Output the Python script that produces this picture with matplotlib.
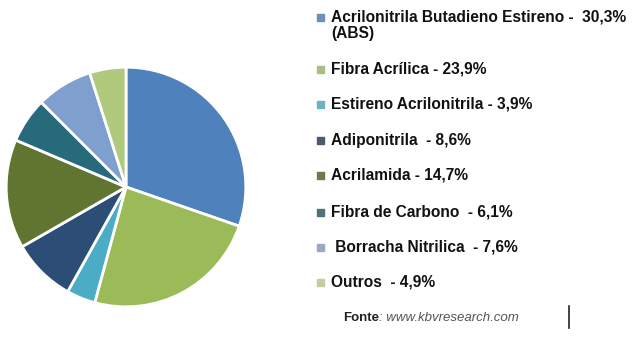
import numpy as np
import matplotlib.pyplot as plt
from matplotlib.patches import Rectangle

#- Data:

labels = ["Acrilonitrila Butadieno Estireno -  30,3%\n(ABS)",
          "Fibra Acrílica - 23,9%",
          "Estireno Acrilonitrila - 3,9%",
          "Adiponitrila  - 8,6%",
          "Acrilamida - 14,7%",
          "Fibra de Carbono  - 6,1%",
          " Borracha Nitrilica  - 7,6%",
          "Outros  - 4,9%"]
shares = [30.3, 23.9, 3.9, 8.6, 14.7, 6.1, 7.6, 4.9]
colors = ["#4f81bd", "#9bbb59", "#4bacc6", "#2c4d75",
          "#5f7530", "#276a7c", "#7f9fcf", "#b0c97c"]
marker_colors = ["#6f8fb8", "#a9bd85", "#6bb3c4", "#4a5a70",
                 "#6e7a4e", "#4a7479", "#9aa9c0", "#c1d09e"]
source = "www.kbvresearch.com"

plt.rcParams['font.family'] = ['Liberation Sans', 'DejaVu Sans']

W, H = 636, 338
fig = plt.figure(figsize=(W / 100, H / 100), dpi=100)

#- Pie:

cx, cy, r = 126, 187, 121
ax = fig.add_axes([(cx - r) / W, (H - cy - r) / H, 2 * r / W, 2 * r / H])
ax.pie(shares, colors=colors, startangle=90, counterclock=False,
       wedgeprops=dict(edgecolor="white", linewidth=2))
ax.set_xlim(-1.01, 1.01)
ax.set_ylim(-1.01, 1.01)
ax.set_aspect("equal")
ax.axis("off")

#- Legend drawn by hand:

row_y = [17, 69, 104, 140, 175, 212, 247, 282]
for lab, col, y in zip(labels, marker_colors, row_y):
    fig.patches.append(Rectangle((317 / W, (H - y - 3.5) / H), 7 / W, 7 / H,
                                 transform=fig.transFigure, color=col))
    if "\n" in lab:
        fig.text(331 / W, (H - y + 8) / H, lab, fontsize=11.2,
                 fontweight="bold", va="top", ha="left",
                 linespacing=1.2, color="#111111")
    else:
        fig.text(331 / W, (H - y) / H, lab, fontsize=11.2,
                 fontweight="bold", va="center", ha="left",
                 color="#111111")

fig.text(343 / W, (H - 318) / H, "Fonte", fontsize=9.5, fontweight="bold",
         va="center", ha="left", color="#222222")
fig.text(379 / W, (H - 318) / H, ": " + source, fontsize=9.5,
         style="italic", va="center", ha="left", color="#555555")
fig.add_artist(plt.Line2D([569 / W, 569 / W], [(H - 328) / H, (H - 306) / H],
                          color="#222222", lw=1.2))

fig.savefig("out.png", dpi=100)
